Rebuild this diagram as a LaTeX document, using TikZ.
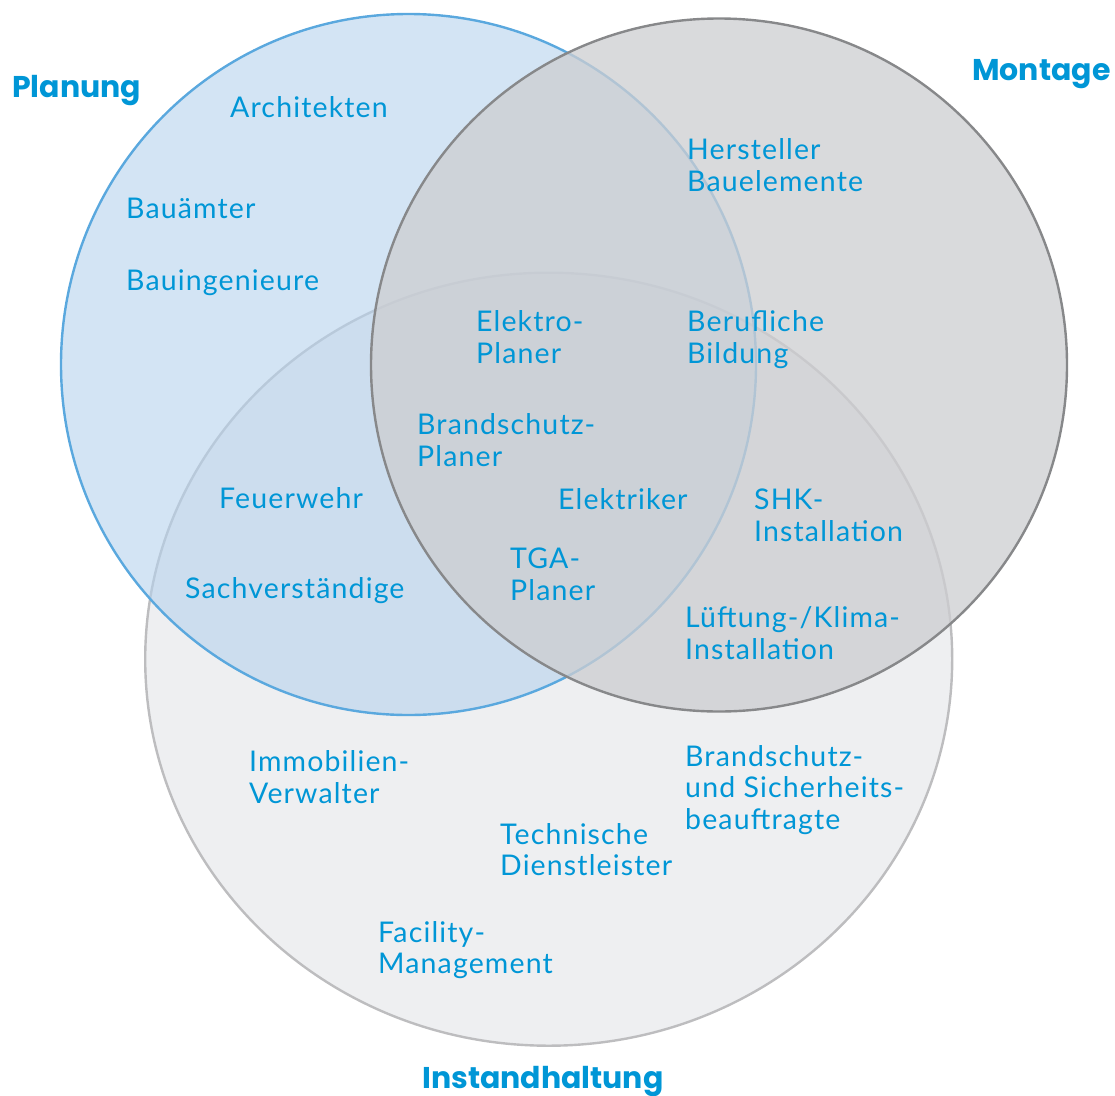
\documentclass[tikz,border=0pt]{standalone}
\usepackage{fontspec}
\setmainfont{Lato}[LetterSpace=4]
\newfontfamily\titlefont{Poppins}
\definecolor{txtblue}{RGB}{0,150,214}
\definecolor{planfill}{RGB}{182,210,237}
\definecolor{planline}{RGB}{90,168,222}
\definecolor{montfill}{RGB}{205,206,209}
\definecolor{montline}{RGB}{135,136,138}
\definecolor{instfill}{RGB}{238,239,241}
\definecolor{instline}{RGB}{189,189,191}
\newcommand\lns[1]{\begin{tabular}[t]{@{}l@{}}#1\end{tabular}}
\tikzset{
  lbl/.style={anchor=base west, inner sep=0pt, text=txtblue,
    font=\fontsize{28.5}{31.7}\selectfont},
  ttl/.style={anchor=base west, inner sep=0pt, text=txtblue,
    font=\titlefont\bfseries\fontsize{30}{34}\selectfont},
  ring/.style={line width=2.4pt}
}
\begin{document}
\begin{tikzpicture}[x=1pt,y=-1pt]
\useasboundingbox (0,0) rectangle (1115,1095);
% circles
\draw[ring, draw=instline, fill=instfill] (548.7,659.2) ellipse [x radius=403.5, y radius=386.5];
\draw[ring, draw=planline, fill=planfill, fill opacity=0.6] (408.5,364.5) ellipse [x radius=347.5, y radius=350.5];
\draw[ring, draw=montline, fill=montfill, fill opacity=0.76] (719,365) ellipse [x radius=348, y radius=346.5];
% titles
\node[ttl] (planung) at (12,97) {Planung};
\node[ttl] (montage) at (972,80) {Montage};
\node[ttl] (instand) at (422,1088) {Instandhaltung};
% labels
\node[lbl] (archi) at (230,117) {Architekten};
\node[lbl] (bauaemter) at (126,218) {Bauämter};
\node[lbl] (bauing) at (126,290) {Bauingenieure};
\node[lbl] (hersteller) at (687,159.5) {\lns{Hersteller\\Bauelemente}};
\node[lbl] (elektroplaner) at (476,331.7) {\lns{Elektro-\\Planer}};
\node[lbl] (beruf) at (687,331.7) {\lns{Berufliche\\Bildung}};
\node[lbl] (brandplaner) at (417,434.3) {\lns{Brandschutz-\\Planer}};
\node[lbl] (feuerwehr) at (219,508.7) {Feuerwehr};
\node[lbl] (elektriker) at (558,509.3) {Elektriker};
\node[lbl] (shk) at (754,509.5) {\lns{SHK-\\Installation}};
\node[lbl] (tga) at (510,568.3) {\lns{TGA-\\Planer}};
\node[lbl] (sachv) at (185,598.3) {Sachverständige};
\node[lbl] (lueftung) at (685,627.7) {\lns{Lüftung-/Klima-\\Installation}};
\node[lbl] (immo) at (249,771.7) {\lns{Immobilien-\\Verwalter}};
\node[lbl] (brandsich) at (685,766) {\lns{Brandschutz-\\und Sicherheits-\\beauftragte}};
\node[lbl] (technik) at (500,844) {\lns{Technische\\Dienstleister}};
\node[lbl] (facility) at (378,942) {\lns{Facility-\\Management}};
\end{tikzpicture}
\end{document}
